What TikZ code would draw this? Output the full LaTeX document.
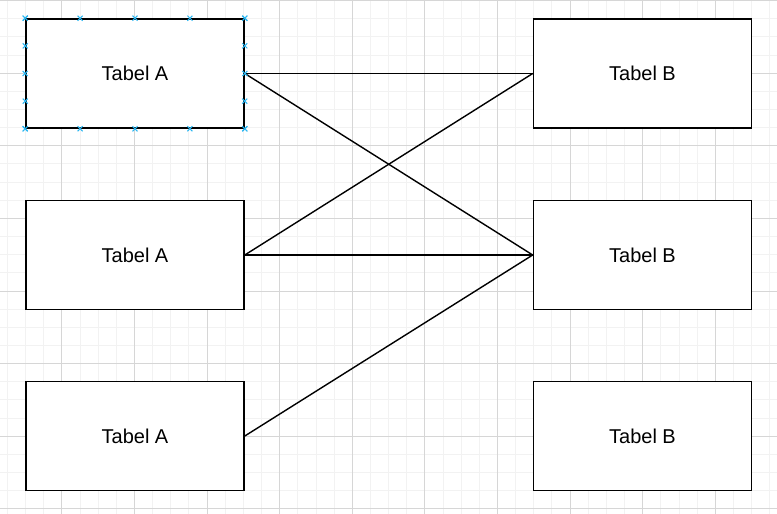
\documentclass[tikz,border=0pt]{standalone}
\usepackage{fontspec}
\setmainfont{Liberation Sans}
\usetikzlibrary{calc}
\begin{document}
\begin{tikzpicture}[x=1bp,y=-1bp,
  minorgrid/.style={draw=black!5,line width=0.8bp},
  majorgrid/.style={draw=black!16,line width=0.8bp},
  tbl/.style={draw=black,line width=1.6bp,fill=white,rectangle,minimum width=218bp,minimum height=109bp,inner sep=0pt,font=\fontsize{20bp}{24bp}\selectfont},
  conn/.style={draw=black,line width=1.4bp},
  handle/.style={draw={rgb,255:red,41;green,182;blue,242},line width=1bp}]
\useasboundingbox (0,0) rectangle (777,514);
\fill[white] (0,0) rectangle (777,514);
\begin{scope}
\clip (0,0) rectangle (777,514);
\foreach \i in {-4,...,40} {
  \pgfmathsetmacro{\xx}{61.8+\i*18.15}
  \draw[minorgrid] (\xx,0) -- (\xx,514);
}
\foreach \i in {-4,...,32} {
  \pgfmathsetmacro{\yy}{0.5+\i*18.15}
  \draw[minorgrid] (0,\yy) -- (777,\yy);
}
\foreach \i in {-1,...,10} {
  \pgfmathsetmacro{\xx}{61.8+\i*72.6}
  \draw[majorgrid] (\xx,0) -- (\xx,514);
}
\foreach \i in {0,...,8} {
  \pgfmathsetmacro{\yy}{0.5+\i*72.6}
  \draw[majorgrid] (0,\yy) -- (777,\yy);
}
\end{scope}
\node[tbl] (a1) at (135,73.5) {Tabel A};
\node[tbl] (a2) at (135,255) {Tabel A};
\node[tbl] (a3) at (135,436) {Tabel A};
\node[tbl] (b1) at (642.5,73.5) {Tabel B};
\node[tbl] (b2) at (642.5,255) {Tabel B};
\node[tbl] (b3) at (642.5,436) {Tabel B};
\draw[conn] (a1.east) -- (b1.west);
\draw[conn] (a1.east) -- (b2.west);
\draw[conn] (a2.east) -- (b1.west);
\draw[conn] (a2.east) -- (b2.west);
\draw[conn] (a3.east) -- (b2.west);
\foreach \f in {0,0.25,0.5,0.75,1} {
  \foreach \p in {
    {($(a1.north west)!\f!(a1.north east)$)},
    {($(a1.south west)!\f!(a1.south east)$)},
    {($(a1.north west)!\f!(a1.south west)$)},
    {($(a1.north east)!\f!(a1.south east)$)}} {
    \draw[handle] \p ++(-2.5,-2.5) -- ++(5,5) \p ++(-2.5,2.5) -- ++(5,-5);
  }
}
\end{tikzpicture}
\end{document}
